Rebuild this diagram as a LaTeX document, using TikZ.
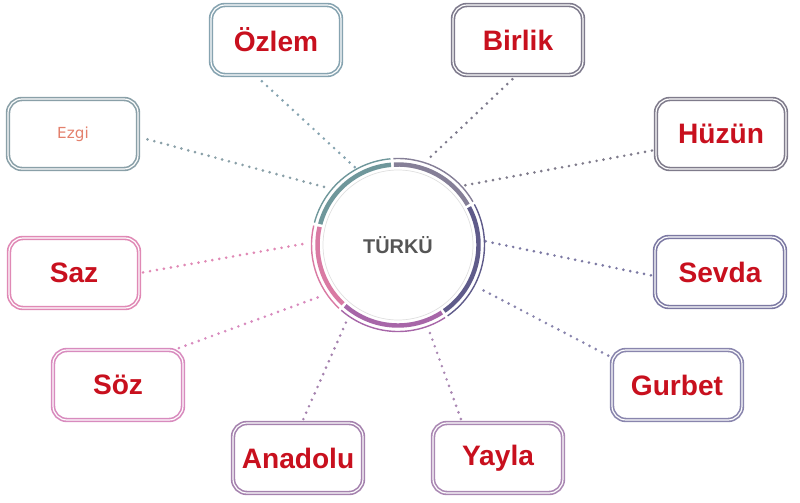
\documentclass[tikz,border=0pt]{standalone}
\usepackage{fontspec}
\setmainfont{Liberation Sans}
\newfontfamily\ezgifont{DejaVu Sans}
\usepackage{tikz}
\usepackage{xcolor}
\definecolor{wordred}{HTML}{C8101E}
\definecolor{ezgitext}{HTML}{E3806C}
\definecolor{turkutext}{HTML}{555555}
\definecolor{tealc}{HTML}{6F979B}
\definecolor{pinkc}{HTML}{D97AA3}
\definecolor{plumc}{HTML}{A766A8}
\definecolor{slatec}{HTML}{5F5B8A}
\definecolor{grayp}{HTML}{857F97}
\definecolor{ozlemc}{HTML}{86A3B0}
\definecolor{birlikc}{HTML}{7E7A8C}
\definecolor{ezgic}{HTML}{8AA0A8}
\definecolor{huzunc}{HTML}{7F7B8B}
\definecolor{sazc}{HTML}{E089B5}
\definecolor{sevdac}{HTML}{7C79A3}
\definecolor{sozc}{HTML}{D88BBE}
\definecolor{gurbetc}{HTML}{8985AD}
\definecolor{anadoluc}{HTML}{A582AE}
\definecolor{yaylac}{HTML}{AA88B3}
% one coloured piece of the ring: colour, from angle, to angle
\newcommand\ringpart[3]{%
  \draw[#1,line width=3.8pt,line cap=butt] (turku.center) ++(-#2:80.5) arc[start angle=-#2,end angle=-#3,radius=80.5];
  \draw[#1,line width=1.2pt,line cap=butt] (turku.center) ++(-#2:86.5) arc[start angle=-#2,end angle=-#3,radius=86.5];}

\begin{document}
\begin{tikzpicture}[x=0.03cm,y=-0.03cm,line cap=round,
  box/.style={draw=#1,double=white,double distance=1pt,line width=1.4pt,rounded corners=0.42cm,
    minimum width=3.9cm,minimum height=2.1cm,text=wordred,font=\bfseries\fontsize{24}{28}\selectfont},
  link/.style={draw=#1,line width=2.5pt,dash pattern=on 0pt off 6pt}]
\useasboundingbox (0,0) rectangle (800,503);
\node[box=ozlemc] (ozlem) at (276,40) {Özlem};
\node[box=birlikc] (birlik) at (518,40) {Birlik};
\node[box=ezgic,text=ezgitext,font=\ezgifont\fontsize{13}{15}\selectfont] (ezgi) at (73,134) {Ezgi};
\node[box=huzunc] (huzun) at (721,134) {Hüzün};
\node[box=sazc] (saz) at (74,273) {Saz};
\node[box=sevdac] (sevda) at (720,272) {Sevda};
\node[box=sozc] (soz) at (118,385) {Söz};
\node[box=gurbetc] (gurbet) at (677,385) {Gurbet};
\node[box=anadoluc] (anadolu) at (298,458) {Anadolu};
\node[box=yaylac] (yayla) at (498,458) {Yayla};
\node[circle,minimum size=5.04cm,inner sep=0pt,text=turkutext,font=\bfseries\fontsize{17}{19}\selectfont] (turku) at (398,245) {TÜRKÜ};
% dotted links
\draw[link=ozlemc,shorten <=0.24cm,shorten >=0.15cm] ([shift={(-20,0)}]ozlem.south) -- (turku.118);
\draw[link=ezgic,shorten <=0.27cm,shorten >=0.15cm] ([shift={(0,3)}]ezgi.east) -- (turku.139);
\draw[link=birlikc,shorten <=0.15cm,shorten >=0.3cm] ([shift={(-2,0)}]birlik.south) -- (turku.73);
\draw[link=huzunc,shorten <=0.1cm] ([shift={(0,16)}]huzun.west) -- (turku.44);
\draw[link=sevdac,shorten <=0.1cm,shorten >=0.1cm] ([shift={(0,4)}]sevda.west) -- (turku.3);
\draw[link=gurbetc,shorten <=0.1cm,shorten >=0.2cm] ([shift={(0,8)}]gurbet.north west) -- (turku.-28);
\draw[link=yaylac,shorten <=0.1cm,shorten >=0.25cm] ([shift={(-36,0)}]yayla.north) -- (turku.-70);
\draw[link=anadoluc,shorten <=0.1cm,shorten >=0.25cm] ([shift={(4,0)}]anadolu.north) -- (turku.-125);
\draw[link=sozc,shorten <=0.1cm,shorten >=0.2cm] ([shift={(-8,0)}]soz.north east) -- (turku.-145);
\draw[link=sazc,shorten <=0.1cm,shorten >=0.2cm] (saz.east) -- (turku.178);
% ring
\draw[gray!25,line width=0.6pt] (turku.center) circle[radius=75];
\ringpart{tealc}{95}{165}
\ringpart{pinkc}{167}{227}
\ringpart{plumc}{229}{303}
\ringpart{slatec}{305}{388}
\ringpart{grayp}{30}{93}
\end{tikzpicture}
\end{document}
